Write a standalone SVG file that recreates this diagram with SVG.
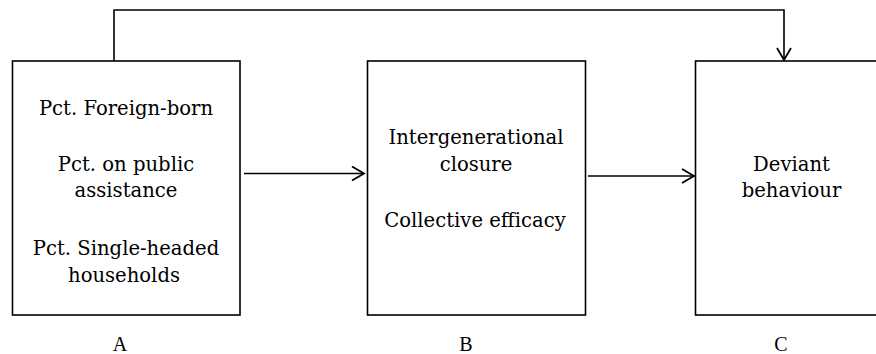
<svg xmlns="http://www.w3.org/2000/svg" width="876" height="354" viewBox="0 0 876 354">
<defs>
<style>
.box{fill:#fff;stroke:#000;stroke-width:1.6}
.t{font-family:"DejaVu Serif","Liberation Serif",serif;font-size:19.6px;fill:#000;text-anchor:middle}
.lbl{font-family:"Liberation Serif",serif;font-size:20px;fill:#000;text-anchor:middle}
.ln{fill:none;stroke:#000;stroke-width:1.6}
</style>
<marker id="arr" markerWidth="16" markerHeight="16" refX="13" refY="8" orient="auto" markerUnits="userSpaceOnUse">
<path d="M1,1 L13,8 L1,15" fill="none" stroke="#000" stroke-width="1.8"/>
</marker>
</defs>
<rect width="876" height="354" fill="#fff"/>
<g id="nodeA">
<rect class="box" x="12.5" y="61" width="227.5" height="254"/>
<text class="t" x="126" y="115">Pct. Foreign-born</text>
<text class="t" x="126" y="171">Pct. on public</text>
<text class="t" x="126" y="197">assistance</text>
<text class="t" x="126" y="255">Pct. Single-headed</text>
<text class="t" x="124" y="282">households</text>
<text class="lbl" x="120" y="351">A</text>
</g>
<g id="nodeB">
<rect class="box" x="367.5" y="61" width="218" height="254"/>
<text class="t" x="476" y="144">Intergenerational</text>
<text class="t" x="476" y="171">closure</text>
<text class="t" x="475" y="227">Collective efficacy</text>
<text class="lbl" x="466" y="351">B</text>
</g>
<g id="nodeC">
<rect class="box" x="695.5" y="61" width="190" height="254"/>
<text class="t" x="791.5" y="171">Deviant</text>
<text class="t" x="791.5" y="197">behaviour</text>
<text class="lbl" x="781" y="351">C</text>
</g>
<g id="connectors">
<path class="ln" d="M244,173.5 H364" marker-end="url(#arr)"/>
<path class="ln" d="M588,176 H694" marker-end="url(#arr)"/>
<path class="ln" d="M114,61 V10 H784 V60" marker-end="url(#arr)"/>
</g>
</svg>
